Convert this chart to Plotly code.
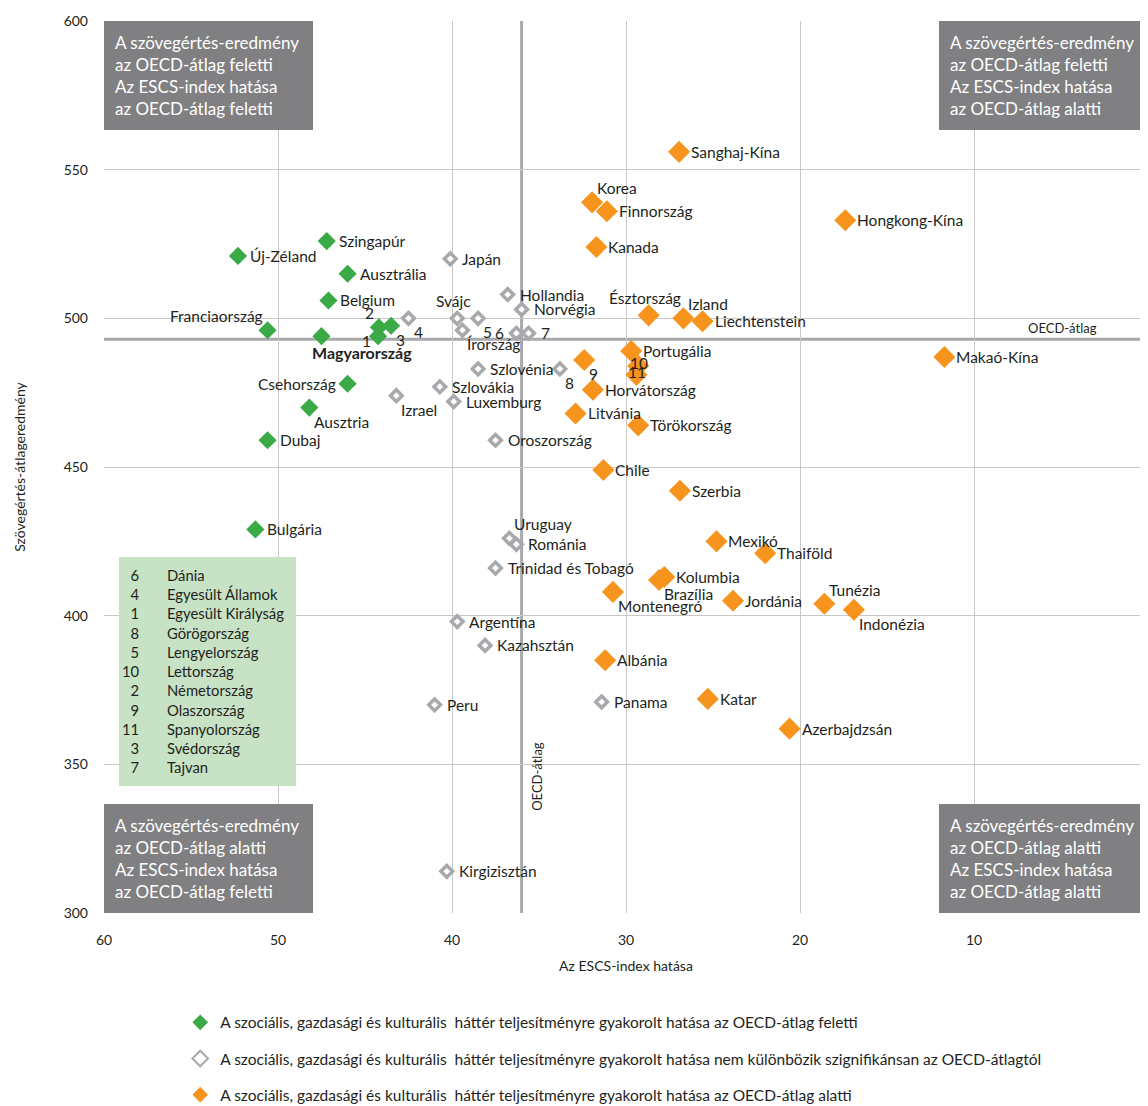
import plotly.graph_objects as go

# ---- data ----
green_names = ["Szingapúr", "Új-Zéland", "Ausztrália", "Belgium", "Franciaország", "Magyarország",
               "2", "3", "1", "Csehország", "Ausztria", "Dubaj", "Bulgária"]
green_x = [47.2, 52.3, 46.0, 47.1, 50.6, 47.5, 44.2, 43.5, 44.25, 46.0, 48.2, 50.6, 51.3]
green_y = [526, 521, 515, 506, 496, 494, 497, 497.5, 494, 478, 470, 459, 429]

gray_names = ["Japán", "Hollandia", "Norvégia", "Svájc", "4", "5", "Írország", "6", "7",
              "Szlovénia", "8", "Szlovákia", "Izrael", "Luxemburg", "Oroszország", "Uruguay",
              "Románia", "Trinidad és Tobagó", "Argentína", "Kazahsztán", "Peru", "Panama",
              "Kirgizisztán"]
gray_x = [40.1, 36.8, 36.0, 39.7, 42.5, 38.5, 39.4, 36.3, 35.6, 38.5, 33.8, 40.7, 43.2, 39.9,
          37.5, 36.7, 36.3, 37.5, 39.7, 38.1, 41.0, 31.4, 40.3]
gray_y = [520, 508, 503, 500, 500, 500, 496, 495, 495, 483, 483, 477, 474, 472, 459, 426,
          424, 416, 398, 390, 370, 371, 314]

orange_names = ["Sanghaj-Kína", "Korea", "Finnország", "Kanada", "Hongkong-Kína", "Észtország",
                "Izland", "Liechtenstein", "Portugália", "9", "10", "11", "Horvátország",
                "Litvánia", "Törökország", "Makaó-Kína", "Chile", "Szerbia", "Mexikó",
                "Thaiföld", "Kolumbia", "Brazília", "Montenegró", "Jordánia", "Tunézia",
                "Indonézia", "Albánia", "Katar", "Azerbajdzsán"]
orange_x = [26.95, 31.95, 31.1, 31.7, 17.4, 28.7, 26.7, 25.6, 29.7, 32.4, 29.3, 29.4, 31.9,
            32.9, 29.3, 11.7, 31.3, 26.9, 24.8, 22.0, 27.8, 28.1, 30.75, 23.85, 18.6, 16.9,
            31.2, 25.3, 20.6]
orange_y = [556, 539, 536, 524, 533, 501, 500, 499, 489, 486, 484, 481, 476, 468, 464, 487,
            449, 442, 425, 421, 413, 412, 408, 405, 404, 402, 385, 372, 362]

oecd_x = 36
oecd_y = 493

key_numbers = ["6", "4", "1", "8", "5", "10", "2", "9", "11", "3", "7"]
key_names = ["Dánia", "Egyesült Államok", "Egyesült Királyság", "Görögország", "Lengyelország",
             "Lettország", "Németország", "Olaszország", "Spanyolország", "Svédország", "Tajvan"]

legend_names = [
    "A szociális, gazdasági és kulturális  háttér teljesítményre gyakorolt hatása az OECD-átlag feletti",
    "A szociális, gazdasági és kulturális  háttér teljesítményre gyakorolt hatása nem különbözik szignifikánsan az OECD-átlagtól",
    "A szociális, gazdasági és kulturális  háttér teljesítményre gyakorolt hatása az OECD-átlag alatti",
]

quad_texts = [
    "A szövegértés-eredmény<br>az OECD-átlag feletti<br>Az ESCS-index hatása<br>az OECD-átlag feletti",
    "A szövegértés-eredmény<br>az OECD-átlag feletti<br>Az ESCS-index hatása<br>az OECD-átlag alatti",
    "A szövegértés-eredmény<br>az OECD-átlag alatti<br>Az ESCS-index hatása<br>az OECD-átlag feletti",
    "A szövegértés-eredmény<br>az OECD-átlag alatti<br>Az ESCS-index hatása<br>az OECD-átlag alatti",
]

# ---- styles ----
FONT = "Lato, 'Open Sans', sans-serif"
GREEN = "#3aaa47"
GRAY = "#a7a9ac"
ORANGE = "#f7941d"
BOX = "#808082"
TXT = "#231f20"
LBL = 15.5

# label placement: (xanchor, yanchor, xshift, yshift)
P = {
    "r": ("left", "middle", 10, 0),
    "l": ("right", "middle", -10, 0),
    "tr": ("left", "bottom", 3, 3),
    "br": ("left", "top", 3, -3),
    "tl": ("right", "bottom", -3, 3),
    "bl": ("right", "middle", -5, -5),
    "t": ("center", "bottom", -4, 6),
    "c": ("center", "middle", 1, 3),
}
place = {
    "Franciaország": "tl", "2": "tl", "1": "bl", "3": "br", "4": "br", "5": "br",
    "Svájc": "t", "Írország": "br", "6": "l", "8": "br", "9": "br", "Ausztria": "br",
    "Izrael": "br", "Uruguay": "tr", "Korea": "tr", "Észtország": "t", "Izland": "tr",
    "Brazília": "br", "Montenegró": "br", "Tunézia": "tr", "Indonézia": "br",
    "Csehország": "l", "10": "c", "11": "c",
}

fig = go.Figure()

fig.add_trace(go.Scatter(x=green_x, y=green_y, mode="markers", name=legend_names[0],
                         legendgroup="g", marker=dict(symbol="diamond", size=14, color=GREEN),
                         hoverinfo="skip"))
fig.add_trace(go.Scatter(x=gray_x, y=gray_y, mode="markers", name=legend_names[1],
                         legendgroup="s",
                         marker=dict(symbol="diamond", size=9, color="white",
                                     line=dict(color=GRAY, width=3.5)),
                         hoverinfo="skip"))
fig.add_trace(go.Scatter(x=orange_x, y=orange_y, mode="markers", name=legend_names[2],
                         legendgroup="o", marker=dict(symbol="diamond", size=17, color=ORANGE),
                         hoverinfo="skip"))

annotations = []
for names, xs, ys in [(green_names, green_x, green_y), (gray_names, gray_x, gray_y),
                      (orange_names, orange_x, orange_y)]:
    for n, x, y in zip(names, xs, ys):
        if n == "Magyarország":
            annotations.append(dict(x=x, y=y, text="<b>Magyarország</b>", showarrow=False,
                                    xanchor="left", yanchor="top", xshift=-12, yshift=-5,
                                    font=dict(size=16, color=TXT)))
            continue
        xa, ya, xs_, ys_ = P[place.get(n, "r")]
        annotations.append(dict(x=x, y=y, text=n, showarrow=False, xanchor=xa, yanchor=ya,
                                xshift=xs_, yshift=ys_, font=dict(size=LBL, color=TXT)))

# OECD labels
annotations.append(dict(xref="paper", x=0.918, y=oecd_y, text="OECD-átlag", showarrow=False,
                        xanchor="center", yanchor="bottom", yshift=1,
                        font=dict(size=13, color=TXT)))
annotations.append(dict(x=oecd_x, y=346, text="OECD-átlag", showarrow=False, textangle=-90,
                        xanchor="center", yanchor="middle", xshift=16,
                        font=dict(size=13, color=TXT)))

shapes = [
    dict(type="line", xref="x", yref="y", x0=60, x1=0, y0=oecd_y, y1=oecd_y,
         line=dict(color=GRAY, width=3), layer="below"),
    dict(type="line", xref="x", yref="y", x0=oecd_x, x1=oecd_x, y0=300, y1=600,
         line=dict(color=GRAY, width=3), layer="below"),
]

# quadrant boxes
bw = 209 / 1044
bh = 109 / 892
for i, (qx, qy) in enumerate([(0, 1 - bh), (1 - bw, 1 - bh), (0, 0), (1 - bw, 0)]):
    shapes.append(dict(type="rect", xref="paper", yref="paper", x0=qx, x1=qx + bw,
                       y0=qy, y1=qy + bh, fillcolor=BOX, line=dict(width=0), layer="above"))
    annotations.append(dict(xref="paper", yref="paper", x=qx, y=qy + bh, xshift=9,
                            yshift=-9, xanchor="left", yanchor="top", align="left",
                            text=quad_texts[i], showarrow=False,
                            font=dict(size=17, color="white")))

# key box
kx0 = (118 - 103) / 1044
kx1 = (295 - 103) / 1044
ky1 = 1 - (556 - 20) / 892
ky0 = 1 - (785 - 20) / 892
shapes.append(dict(type="rect", xref="paper", yref="paper", x0=kx0, x1=kx1, y0=ky0, y1=ky1,
                   fillcolor="#c7e2c4", line=dict(width=0), layer="above"))
annotations.append(dict(xref="paper", yref="paper", x=(141 - 103) / 1044, y=(ky0 + ky1) / 2,
                        xanchor="right", yanchor="middle", align="right",
                        text="<br>".join(key_numbers), showarrow=False,
                        font=dict(size=14.8, color=TXT)))
annotations.append(dict(xref="paper", yref="paper", x=(164 - 103) / 1044, y=(ky0 + ky1) / 2,
                        xanchor="left", yanchor="middle", align="left",
                        text="<br>".join(key_names), showarrow=False,
                        font=dict(size=14.8, color=TXT)))

fig.update_layout(
    width=1148, height=1106,
    margin=dict(l=96, r=8, t=13, b=201, autoexpand=False),
    plot_bgcolor="white", paper_bgcolor="white",
    font=dict(family=FONT, color=TXT, size=14),
    shapes=shapes, annotations=annotations,
    showlegend=True,
    legend=dict(x=0.073, y=-0.104, xanchor="left", yanchor="top", orientation="v",
                tracegroupgap=13, font=dict(size=15.5, color=TXT), itemwidth=30,
                itemsizing="constant", bgcolor="rgba(0,0,0,0)"),
    xaxis=dict(range=[60, 0], tickvals=[0, 10, 20, 30, 40, 50, 60], showgrid=True,
               gridcolor="#c8c8c8", gridwidth=1, zeroline=False, showline=False,
               ticks="", tickfont=dict(size=14), ticklabelstandoff=17, automargin=False,
               title=dict(text="Az ESCS-index hatása", font=dict(size=14), standoff=14)),
    yaxis=dict(range=[300, 600], tickvals=[300, 350, 400, 450, 500, 550, 600], showgrid=True,
               gridcolor="#c8c8c8", gridwidth=1, zeroline=False, showline=False,
               ticks="", tickfont=dict(size=14), ticklabelstandoff=15, automargin=False,
               title=dict(text="Szövegértés-átlageredmény", font=dict(size=14), standoff=34)),
)

fig.write_html("out.html")
